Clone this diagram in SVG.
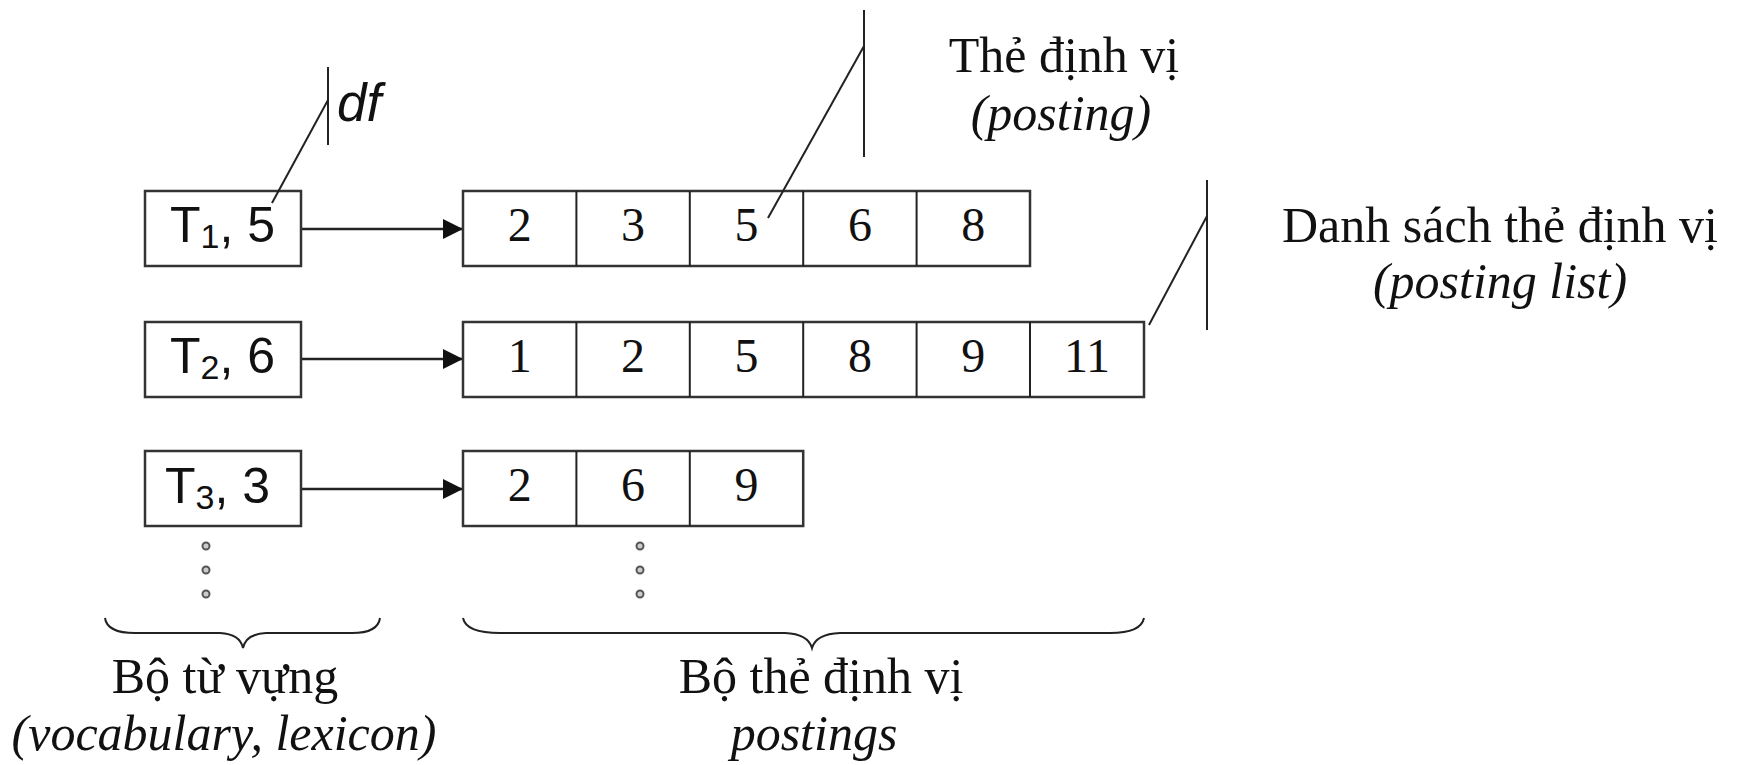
<svg xmlns="http://www.w3.org/2000/svg" width="1738" height="765" viewBox="0 0 1738 765">
<defs>
<marker id="arr" markerWidth="20" markerHeight="20" refX="20" refY="10" orient="auto" markerUnits="userSpaceOnUse">
<path d="M0,0 L20,10 L0,20 Z" fill="#111"/>
</marker>
<style>
.box{fill:#fff;stroke:#333;stroke-width:2.5}
.ln{fill:none;stroke:#222;stroke-width:2}
.conn{fill:none;stroke:#222;stroke-width:2.5}
.sans{font-family:"Liberation Sans",Arial,sans-serif;font-size:50px;fill:#111}
.num{font-family:"Liberation Serif","Times New Roman",serif;font-size:48px;fill:#111;text-anchor:middle}
.lbl{font-family:"Liberation Serif","Times New Roman",serif;font-size:50px;fill:#111;text-anchor:middle}
.it{font-style:italic}
.dot{fill:#ccc;stroke:#555;stroke-width:2}
</style>
</defs>
<rect width="1738" height="765" fill="#fff"/>

<g id="connectors">
<line class="conn" x1="302" y1="229" x2="463" y2="229" marker-end="url(#arr)"/>
<line class="conn" x1="302" y1="359" x2="463" y2="359" marker-end="url(#arr)"/>
<line class="conn" x1="302" y1="489" x2="463" y2="489" marker-end="url(#arr)"/>
</g>

<g id="term1">
<rect class="box" x="145" y="191" width="156" height="75"/>
<text class="sans" x="170" y="242">T<tspan font-size="34" dy="6">1</tspan><tspan dy="-6">, 5</tspan></text>
</g>
<g id="term2">
<rect class="box" x="145" y="322" width="156" height="75"/>
<text class="sans" x="170" y="373">T<tspan font-size="34" dy="6">2</tspan><tspan dy="-6">, 6</tspan></text>
</g>
<g id="term3">
<rect class="box" x="145" y="451" width="156" height="75"/>
<text class="sans" x="165" y="503">T<tspan font-size="34" dy="6">3</tspan><tspan dy="-6">, 3</tspan></text>
</g>

<g id="postings1">
<rect class="box" x="463" y="191" width="567" height="75"/>
<path class="ln" d="M576.4,191V266M689.8,191V266M803.2,191V266M916.6,191V266"/>
<text class="num" x="519.7" y="241">2</text>
<text class="num" x="633.1" y="241">3</text>
<text class="num" x="746.5" y="241">5</text>
<text class="num" x="859.9" y="241">6</text>
<text class="num" x="973.3" y="241">8</text>
</g>
<g id="postings2">
<rect class="box" x="463" y="322" width="681" height="75"/>
<path class="ln" d="M576.4,322V397M689.8,322V397M803.2,322V397M916.6,322V397M1030,322V397"/>
<text class="num" x="519.7" y="372">1</text>
<text class="num" x="633.1" y="372">2</text>
<text class="num" x="746.5" y="372">5</text>
<text class="num" x="859.9" y="372">8</text>
<text class="num" x="973.3" y="372">9</text>
<text class="num" x="1087" y="372">11</text>
</g>
<g id="postings3">
<rect class="box" x="463" y="451" width="340.2" height="75"/>
<path class="ln" d="M576.4,451V526M689.8,451V526"/>
<text class="num" x="519.7" y="501">2</text>
<text class="num" x="633.1" y="501">6</text>
<text class="num" x="746.5" y="501">9</text>
</g>

<g id="callout-df">
<line class="ln" x1="328" y1="67" x2="328" y2="145"/>
<line class="ln" x1="272" y1="203" x2="328" y2="100"/>
<text x="337" y="121" font-family="'Liberation Sans',Arial,sans-serif" font-style="italic" font-size="53" fill="#111">df</text>
</g>

<g id="callout-posting">
<line class="ln" x1="864" y1="10" x2="864" y2="157"/>
<line class="ln" x1="768" y1="218" x2="864" y2="46"/>
<text class="lbl" x="1064" y="72">Thẻ định vị</text>
<text class="lbl it" x="1061" y="130">(posting)</text>
</g>

<g id="callout-list">
<line class="ln" x1="1207" y1="180" x2="1207" y2="330"/>
<line class="ln" x1="1149" y1="325" x2="1207" y2="216"/>
<text class="lbl" x="1500" y="242">Danh sách thẻ định vị</text>
<text class="lbl it" x="1500" y="298">(posting list)</text>
</g>

<g id="dots">
<circle class="dot" cx="206" cy="546" r="3.5"/>
<circle class="dot" cx="206" cy="570" r="3.5"/>
<circle class="dot" cx="206" cy="594" r="3.5"/>
<circle class="dot" cx="640" cy="546" r="3.5"/>
<circle class="dot" cx="640" cy="570" r="3.5"/>
<circle class="dot" cx="640" cy="594" r="3.5"/>
</g>

<g id="vocabulary">
<path class="ln" d="M105,618 Q107,633 135,633 L220,633 Q240,634 243,648 Q246,634 266,633 L352,633 Q378,633 380,618"/>
<text class="lbl" x="225" y="693">Bộ từ vựng</text>
<text class="lbl it" x="224" y="750">(vocabulary, lexicon)</text>
</g>

<g id="postings-set">
<path class="ln" d="M463,618 Q466,633 500,633 L785,633 Q808,634 812,648 Q816,634 840,633 L1110,633 Q1141,633 1144,618"/>
<text class="lbl" x="821" y="693">Bộ thẻ định vị</text>
<text class="lbl it" x="814" y="750">postings</text>
</g>
</svg>
